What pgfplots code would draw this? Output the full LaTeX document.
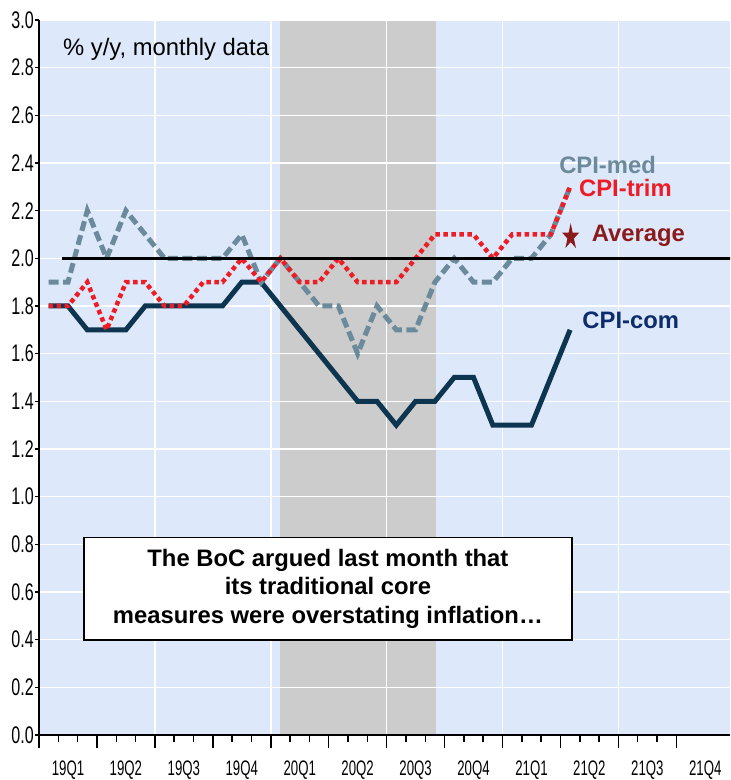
\documentclass[border=0pt]{standalone}
\usepackage{fontspec}
\setmainfont{Liberation Sans}
\usepackage{pgfplots}
\usepackage{pgfplotstable}
\pgfplotsset{compat=1.18}

\definecolor{bgblue}{RGB}{221,233,251}
\definecolor{graybg}{RGB}{204,204,204}
\definecolor{comline}{RGB}{14,53,80}
\definecolor{comtext}{RGB}{13,44,108}
\definecolor{medcol}{RGB}{107,138,155}
\definecolor{trimcol}{RGB}{238,28,37}
\definecolor{avgcol}{RGB}{139,26,26}

\pgfplotstableread{
i com trim med
0 1.8 1.8 1.9
1 1.8 1.8 1.9
2 1.7 1.9 2.2
3 1.7 1.7 2.0
4 1.7 1.9 2.2
5 1.8 1.9 2.1
6 1.8 1.8 2.0
7 1.8 1.8 2.0
8 1.8 1.9 2.0
9 1.8 1.9 2.0
10 1.9 2.0 2.1
11 1.9 1.9 1.9
12 1.8 2.0 2.0
13 1.7 1.9 1.9
14 1.6 1.9 1.8
15 1.5 2.0 1.8
16 1.4 1.9 1.6
17 1.4 1.9 1.8
18 1.3 1.9 1.7
19 1.4 2.0 1.7
20 1.4 2.1 1.9
21 1.5 2.1 2.0
22 1.5 2.1 1.9
23 1.3 2.0 1.9
24 1.3 2.1 2.0
25 1.3 2.1 2.0
26 1.5 2.1 2.1
27 1.7 2.3 2.3
}\cpidata

\pgfdeclareplotmark{fstar}{%
  \pgfpathmoveto{\pgfqpoint{0pt}{13.8pt}}%
  \pgfpathlineto{\pgfqpoint{-2.01pt}{4.26pt}}%
  \pgfpathlineto{\pgfqpoint{-8.53pt}{4.26pt}}%
  \pgfpathlineto{\pgfqpoint{-3.26pt}{-1.63pt}}%
  \pgfpathlineto{\pgfqpoint{-5.27pt}{-11.16pt}}%
  \pgfpathlineto{\pgfqpoint{0pt}{-5.27pt}}%
  \pgfpathlineto{\pgfqpoint{5.27pt}{-11.16pt}}%
  \pgfpathlineto{\pgfqpoint{3.26pt}{-1.63pt}}%
  \pgfpathlineto{\pgfqpoint{8.53pt}{4.26pt}}%
  \pgfpathlineto{\pgfqpoint{2.01pt}{4.26pt}}%
  \pgfpathclose
  \pgfusepathqfill
}

\newcommand{\q}[1]{\scalebox{0.63}[1]{#1}}

\begin{document}
\begin{tikzpicture}
\path (0,0) rectangle (730pt,780pt);
\begin{axis}[
  set layers,
  at={(39pt,45pt)}, anchor=south west,
  scale only axis, width=691pt, height=715pt,
  xmin=-0.5, xmax=35.28, ymin=0, ymax=3,
  axis background/.style={fill=bgblue},
  axis x line*=bottom, axis y line*=left,
  axis line style={line width=2pt, black},
  tick align=outside,
  major tick length=4pt,
  xtick=\empty,
  ytick={0,0.2,0.4,0.6,0.8,1.0,1.2,1.4,1.6,1.8,2.0,2.2,2.4,2.6,2.8,3.0},
  y tick style={line width=1.5pt, black},
  yticklabel={\scalebox{0.67}[1]{\pgfmathprintnumber[fixed,fixed zerofill,precision=1,assume math mode=true]{\tick}}},
  yticklabel style={font=\fontsize{24}{24}\selectfont, inner sep=1pt},
  ymajorgrids=true,
  grid style={white, line width=1.5pt},
  extra x ticks={5.5,11.5,17.5,23.5,29.5},
  extra x tick labels={},
  extra x tick style={grid=major, major grid style={white, line width=1.5pt}, tick style={draw=none}},
  clip=true,
]
\addplot[on layer=axis background, fill=graybg, draw=none] coordinates {(12,3) (20.05,3)} \closedcycle;

\addplot[comline, line width=5pt] table[x=i, y=com] {\cpidata};
\addplot[medcol, line width=5pt, dash pattern=on 10pt off 4.5pt] table[x=i, y=med] {\cpidata};
\addplot[trimcol, line width=4.5pt, dash pattern=on 4.5pt off 3.5pt] table[x=i, y=trim] {\cpidata};
\addplot[black, line width=3pt] coordinates {(0.7,2) (35.5,2)};
\addplot[only marks, mark=fstar, avgcol, mark options={fill=avgcol}] coordinates {(27.03,2.09)};

\node[anchor=base west, inner sep=0pt, font=\fontsize{23.8}{24}\selectfont] at (axis cs:0.74,2.853) {\% y/y, monthly data};
\node[anchor=base west, inner sep=0pt, text=medcol, font=\bfseries\fontsize{23.8}{24}\selectfont] at (axis cs:26.43,2.357) {CPI-med};
\node[anchor=base west, inner sep=0pt, text=trimcol, font=\bfseries\fontsize{23.8}{24}\selectfont] at (axis cs:27.46,2.259) {CPI-trim};
\node[anchor=base west, inner sep=0pt, text=avgcol, font=\bfseries\fontsize{23.8}{24}\selectfont] at (axis cs:28.12,2.070) {Average};
\node[anchor=base west, inner sep=0pt, text=comtext, font=\bfseries\fontsize{23.8}{24}\selectfont] at (axis cs:27.63,1.706) {CPI-com};

\node[draw=black, line width=1.5pt, fill=white, minimum width=487.7pt, minimum height=102.7pt, align=center, inner sep=0pt, font=\bfseries\fontsize{23.8}{28.3}\selectfont] at (axis cs:14.46,0.614) {The BoC argued last month that\\its traditional core\\measures were overstating inflation…};
\end{axis}
\begin{axis}[
  at={(39pt,45pt)}, anchor=south west,
  scale only axis, width=691pt, height=715pt,
  xmin=-0.5, xmax=35.28, ymin=0, ymax=3,
  axis x line*=bottom, axis y line*=left,
  y axis line style={draw=none},
  axis line style={line width=2pt, black},
  tick align=outside,
  major tick length=13pt, minor tick length=7pt,
  xtick={-0.5,2.5,5.5,8.5,11.5,14.5,17.5,20.5,23.5,26.5,29.5,32.5},
  minor x tick num=2,
  xticklabels={\q{19Q1},\q{19Q2},\q{19Q3},\q{19Q4},\q{20Q1},\q{20Q2},\q{20Q3},\q{20Q4},\q{21Q1},\q{21Q2},\q{21Q3},\q{21Q4}},
  xticklabel style={font=\fontsize{21}{21}\selectfont, xshift=28.97pt, anchor=north, inner sep=0pt, yshift=-12.5pt},
  x tick style={line width=1.5pt, black},
  ytick=\empty,
]
\addplot[draw=none] coordinates {(0,1) (1,1)};
\end{axis}
\end{tikzpicture}
\end{document}
